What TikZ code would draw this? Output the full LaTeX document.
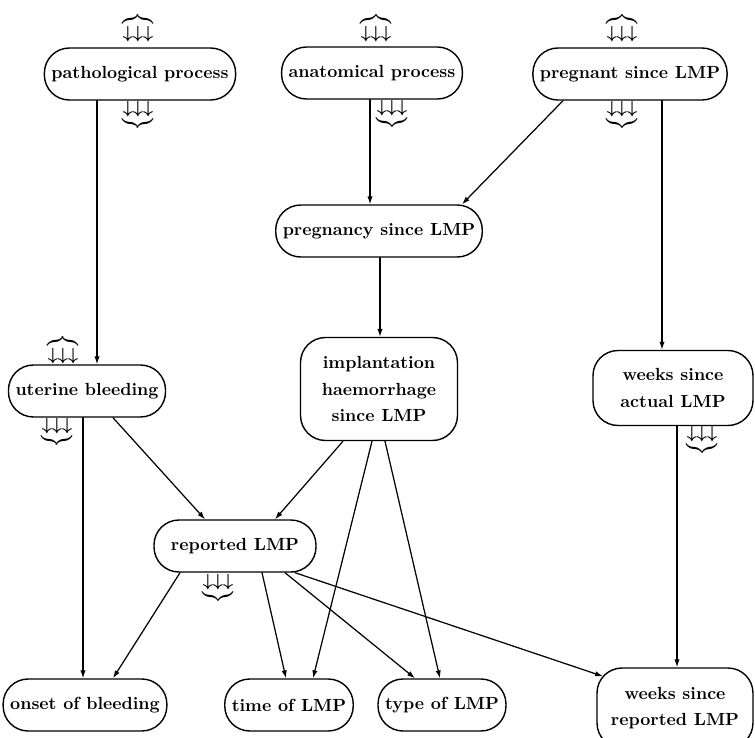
\documentclass[tikz,border=0pt]{standalone}
\usetikzlibrary{arrows.meta,calc}

\begin{document}
\begin{tikzpicture}[x=0.02cm, y=-0.02cm, >={Latex[length=4.5pt,width=3pt]},
  line cap=round, line join=round,
  var/.style={draw, line width=0.8pt, rounded corners=0.5cm, align=center,
    inner xsep=4pt, minimum height=1.04cm, font=\bfseries\fontsize{10}{15}\selectfont},
  edge/.style={->, line width=0.7pt},
  lin/.style={inner sep=0pt, font=\boldmath}]
  \useasboundingbox (0,0) rectangle (755,738);

  % Variablen
  \node[var] (path) at (140,74) {pathological process};
  \node[var] (anat) at (372,73) {anatomical process};
  \node[var] (pregt) at (630,74) {pregnant since LMP};
  \node[var] (pregy) at (379,231) {pregnancy since LMP};
  \node[var] (uter) at (87,391) {uterine bleeding};
  \node[var, minimum width=3.14cm, minimum height=2.06cm] (impl) at (379,389) {implantation\\haemorrhage\\since LMP};
  \node[var, minimum width=3.2cm, minimum height=1.5cm] (wact) at (673,388) {weeks since\\actual LMP};
  \node[var, minimum width=3.24cm] (rep) at (235,546) {reported LMP};
  \node[var] (onset) at (85,705) {onset of bleeding};
  \node[var] (time) at (289,705) {time of LMP};
  \node[var] (type) at (442,705) {type of LMP};
  \node[var, minimum width=3.12cm, minimum height=1.6cm] (wrep) at (675,708) {weeks since\\reported LMP};

  % Ein- und Ausgaenge
  \node[lin, anchor=south] (pathin) at (138,42) {$\overbrace{\downarrow\downarrow\downarrow}$};
  \node[lin, anchor=north] (pathout) at (138,101) {$\underbrace{\downarrow\downarrow\downarrow}$};
  \node[lin, anchor=south] (anatin) at (376,42) {$\overbrace{\downarrow\downarrow\downarrow}$};
  \node[lin, anchor=north] (anatout) at (392,100) {$\underbrace{\downarrow\downarrow\downarrow}$};
  \node[lin, anchor=south] (pregtin) at (622,42) {$\overbrace{\downarrow\downarrow\downarrow}$};
  \node[lin, anchor=north] (pregtout) at (622,101) {$\underbrace{\downarrow\downarrow\downarrow}$};
  \node[lin, anchor=south] (uterin) at (63,364) {$\overbrace{\downarrow\downarrow\downarrow}$};
  \node[lin, anchor=north] (uterout) at (57,418) {$\underbrace{\downarrow\downarrow\downarrow}$};
  \node[lin, anchor=north] (wactout) at (702,426) {$\underbrace{\downarrow\downarrow\downarrow}$};
  \node[lin, anchor=north] (repout) at (218,574) {$\underbrace{\downarrow\downarrow\downarrow}$};

  % Kanten
  \draw[edge] ($(path.south)+(-43,0)$) -- ($(uter.north)+(10,0)$);
  \draw[edge] ($(anat.south)+(-2,0)$) -- ($(pregy.north)+(-9,0)$);
  \draw[edge] ($(pregt.south)+(-67,0)$) -- ($(pregy.north)+(83,0)$);
  \draw[edge] ($(pregt.south)+(32,0)$) -- ($(wact.north)+(-11,0)$);
  \draw[edge] ($(pregy.south)+(1,0)$) -- ($(impl.north)+(1,0)$);
  \draw[edge] ($(uter.south)+(-4,0)$) -- ($(onset.north)+(-2,0)$);
  \draw[edge] ($(uter.south)+(26,0)$) -- ($(rep.north)+(-30,0)$);
  \draw[edge] ($(impl.south)+(-36,0)$) -- ($(rep.north)+(40,0)$);
  \draw[edge] ($(impl.south)+(-7,0)$) -- ($(time.north)+(24,0)$);
  \draw[edge] ($(impl.south)+(6,0)$) -- ($(type.north)+(-2,0)$);
  \draw[edge] ($(wact.south)+(4,0)$) -- ($(wrep.north)+(2,0)$);
  \draw[edge] ($(rep.south)+(-55,0)$) -- ($(onset.north)+(28,0)$);
  \draw[edge] ($(rep.south)+(27,0)$) -- ($(time.north)+(-3,0)$);
  \draw[edge] ($(rep.south)+(50,0)$) -- ($(type.north)+(-27,0)$);
  \draw[edge] ($(rep.south)+(60,0)$) -- ($(wrep.north)+(-72,9)$);
\end{tikzpicture}
\end{document}
